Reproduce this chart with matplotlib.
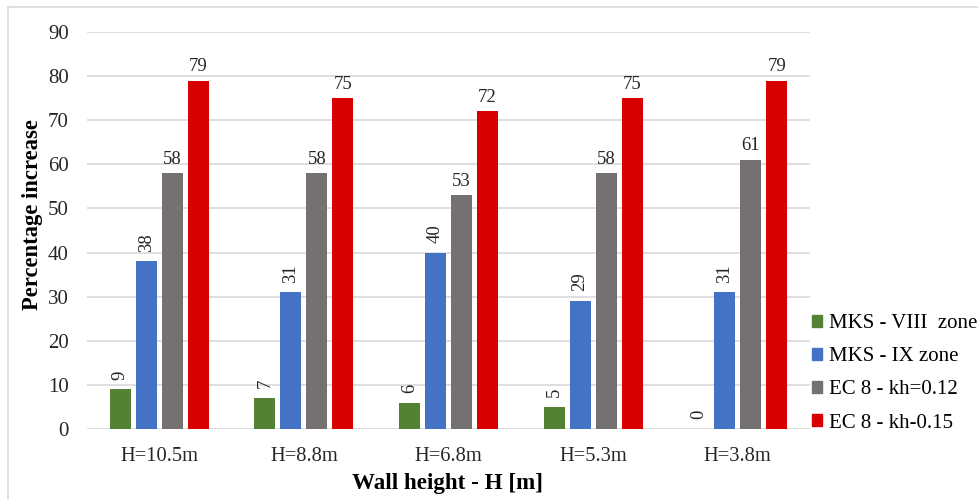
import numpy as np
import matplotlib.pyplot as plt
from matplotlib.patches import Patch, Rectangle

plt.rcParams['font.family'] = ['Liberation Serif', 'DejaVu Serif']

# data
heights = ['H=10.5m', 'H=8.8m', 'H=6.8m', 'H=5.3m', 'H=3.8m']
series_names = ['MKS - VIII  zone', 'MKS - IX zone', 'EC 8 - kh=0.12', 'EC 8 - kh-0.15']
mks_viii = [9, 7, 6, 5, 0]
mks_ix = [38, 31, 40, 29, 31]
ec8_012 = [58, 58, 53, 58, 61]
ec8_015 = [79, 75, 72, 75, 79]
yticks = [0, 10, 20, 30, 40, 50, 60, 70, 80, 90]

colors = ['#548235', '#4472C4', '#767171', '#D90000']
values = [mks_viii, mks_ix, ec8_012, ec8_015]
rotated = [True, True, False, False]

fig = plt.figure(figsize=(9.79, 4.99), dpi=100)
ax = fig.add_axes([87/979, 1-429/499, (810-87)/979, (429-32)/499])

x = np.arange(len(heights))
width = 0.145
offsets = [-0.27, -0.09, 0.09, 0.27]

for vals, off, col, rot in zip(values, offsets, colors, rotated):
    bars = ax.bar(x + off, vals, width, color=col, zorder=3)
    for b, v in zip(bars, vals):
        if rot:
            ax.annotate(str(v), (b.get_x() + b.get_width()/2, v), xytext=(0, 7),
                        textcoords='offset points', ha='center', va='bottom',
                        rotation=90, fontsize=13.5, color='#262626')
        else:
            ax.annotate(str(v), (b.get_x() + b.get_width()/2, v), xytext=(0, 4),
                        textcoords='offset points', ha='center', va='bottom',
                        fontsize=13.5, color='#262626')

ax.set_xlim(-0.5, len(heights) - 0.5)
ax.set_ylim(0, 90)
ax.set_yticks(yticks)
ax.set_xticks(x)
ax.set_xticklabels(heights)
ax.tick_params(length=0, colors='#262626')
ax.tick_params(axis='y', pad=13, labelsize=15)
ax.tick_params(axis='x', pad=13, labelsize=14.75)
ax.grid(axis='y', color='#D9D9D9', linewidth=1.2, zorder=0)
for s in ax.spines.values():
    s.set_visible(False)

fig.text(33/979, 1-215/499, 'Percentage increase', rotation=90, ha='center', va='center',
         fontsize=16.3, fontweight='bold')
fig.text(448/979, 1-483/499, 'Wall height - H [m]', ha='center', va='center',
         fontsize=16.6, fontweight='bold')

handles = [Patch(color=c) for c in colors]
fig.legend(handles, series_names, loc='upper left', bbox_to_anchor=(812/979, 1-314/499),
           frameon=False, fontsize=15, borderpad=0, borderaxespad=0,
           handlelength=0.5, handleheight=0.5, handletextpad=0.3, labelspacing=0.68)

# light frame around the chart
fig.patches.append(Rectangle((8/979, -0.1), 1.2, 1 + 0.1 - 7/499, transform=fig.transFigure,
                             fill=False, edgecolor='#D9D9D9', linewidth=1.2))

fig.savefig('out.png', dpi=100)
